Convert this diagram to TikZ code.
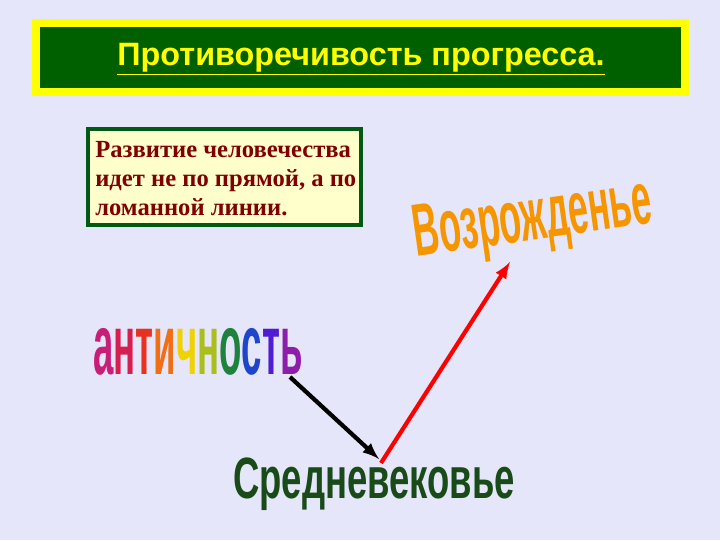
\documentclass[tikz,border=0pt]{standalone}
\usepackage{fontspec}
\setmainfont{Liberation Serif}
\newfontfamily\sansf{Liberation Sans}
\definecolor{bgcol}{RGB}{230,230,250}
\definecolor{titlegreen}{RGB}{0,96,0}
\definecolor{titleyellow}{RGB}{255,255,0}
\definecolor{notefill}{RGB}{255,255,204}
\definecolor{noteborder}{RGB}{0,90,20}
\definecolor{notetext}{RGB}{128,0,0}
\definecolor{midgreen}{RGB}{25,75,25}
\definecolor{vozcol}{RGB}{245,150,0}
\begin{document}
\begin{tikzpicture}[x=0.025cm,y=-0.025cm,
  mynote/.style={align=left, inner sep=5pt, text=notetext, font=\fontsize{17.5}{20.5}\selectfont\bfseries},
  myart/.style={inner sep=0pt, font=\sansf\bfseries},
  myarr/.style={line width=3pt, -latex}]
  \fill[bgcol] (0,0) rectangle (720,540);

  \draw[titleyellow, line width=5pt, fill=titlegreen] (36,23) rectangle (685,92);
  \node[inner sep=0pt, text=titleyellow, font=\sansf\bfseries\fontsize{23}{26}\selectfont] (title) at (361,59)
    {\underline{Противоречивость прогресса.}};

  \draw[noteborder, line width=2.2pt, fill=notefill] (88,129) rectangle (361,225);
  \node[mynote, anchor=north west] (note) at (88,134)
    {Развитие человечества\\идет не по прямой, а по\\ломанной линии.};

  % words
  \node[myart, rotate=8, xscale=0.58, yscale=1.2, font=\sansf\bfseries\fontsize{44}{44}\selectfont, text=vozcol] (vozr) at (533,222)
    {Возрожденье};
  \node[myart, xscale=0.62, yscale=1.45, font=\sansf\bfseries\fontsize{42}{42}\selectfont] (antich) at (198,352)
    {\textcolor[RGB]{200,30,120}{а}\textcolor[RGB]{215,30,80}{н}\textcolor[RGB]{230,50,30}{т}\textcolor[RGB]{240,110,20}{и}\textcolor[RGB]{240,210,0}{ч}\textcolor[RGB]{170,190,30}{н}\textcolor[RGB]{30,130,60}{о}\textcolor[RGB]{30,70,200}{с}\textcolor[RGB]{80,30,210}{т}\textcolor[RGB]{140,30,170}{ь}};
  \node[myart, xscale=0.72, yscale=1.15, font=\sansf\bfseries\fontsize{36}{36}\selectfont, text=midgreen] (sredn) at (374,484)
    {Средневековье};

  \coordinate (a1) at (290,377);
  \coordinate (a2) at (379,459);
  \coordinate (r1) at (381,463);
  \coordinate (r2) at (510,262);
  \draw[myarr, black] (a1) -- (a2);
  \draw[myarr, red] (r1) -- (r2);
\end{tikzpicture}
\end{document}
